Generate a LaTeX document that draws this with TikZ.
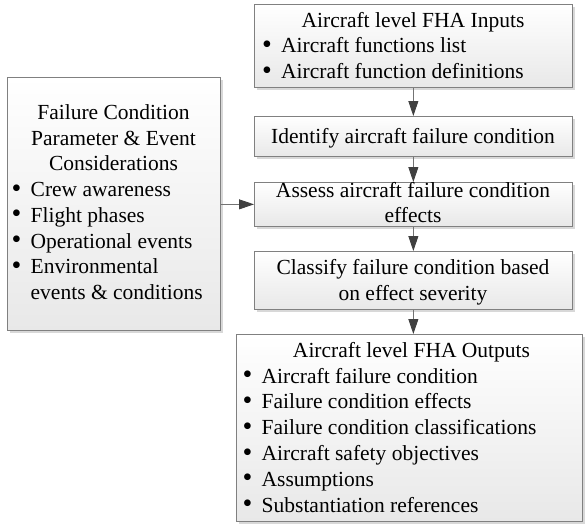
\documentclass[tikz,border=0pt]{standalone}
\usepackage{fontspec}
\setmainfont{Liberation Serif}
\usetikzlibrary{arrows.meta,shadows}

\begin{document}
\begin{tikzpicture}[x=1pt,y=-1pt,
  box/.style={draw=black!50, line width=0.7pt, top color=white, bottom color=black!9,
    drop shadow={shadow xshift=2.5pt, shadow yshift=-2.5pt, fill=black!30, opacity=0.5},
    inner sep=0pt, anchor=north west},
  txt/.style={font=\fontsize{21.5}{25.7}\selectfont, inner sep=0pt},
  title/.style={txt, anchor=base},
  item/.style={txt, anchor=base west},
  conn/.style={draw=black!55, line width=0.8pt,
    -{Triangle[length=15pt,width=10pt,color=black!75]}}
]
\useasboundingbox (0,0) rectangle (585,524);
\newcommand{\bul}{\makebox[19pt][l]{\raisebox{-0.03em}{\scalebox{1.3}{\textbullet}}}}

% boxes
\node[box, minimum width=318pt, minimum height=83pt]  (inp) at (254,4)   {};
\node[box, minimum width=318pt, minimum height=40pt]  (idf) at (254,116) {};
\node[box, minimum width=318pt, minimum height=44pt]  (ass) at (254,182) {};
\node[box, minimum width=318pt, minimum height=58pt]  (cls) at (254,251) {};
\node[box, minimum width=346pt, minimum height=187pt] (out) at (236,334) {};
\node[box, minimum width=213pt, minimum height=253pt] (par) at (7,77)    {};

% inputs
\node[title] (inpT) at (413,27.5) {Aircraft level FHA Inputs};
\node[item] (inpA) at (262,53) {\bul Aircraft functions list};
\node[item] (inpB) at (262,78.7) {\bul Aircraft function definitions};

% process steps
\node[title] (idfT) at (413,143) {Identify aircraft failure condition};
\node[title] (assA) at (413,197) {Assess aircraft failure condition};
\node[title] (assB) at (413,222) {effects};
\node[title] (clsA) at (413,274.5) {Classify failure condition based};
\node[title] (clsB) at (413,300) {on effect severity};

% parameters and events
\node[title] (parA) at (113.5,119.5) {Failure Condition};
\node[title] (parB) at (113.5,145.2) {Parameter \& Event};
\node[title] (parC) at (113.5,170.9) {Considerations};
\node[item]  (parD) at (11.5,196.6)  {\bul Crew awareness};
\node[item]  (parE) at (11.5,222.3)  {\bul Flight phases};
\node[item]  (parF) at (11.5,248.0)  {\bul Operational events};
\node[item]  (parG) at (11.5,273.7)  {\bul Environmental};
\node[item]  (parH) at (30.5,299.4)  {events \& conditions};

% outputs
\node[title] (outT) at (411.5,357) {Aircraft level FHA Outputs};
\node[item] (outA) at (242.5,383) {\bul Aircraft failure condition};
\node[item] (outB) at (242.5,408.8) {\bul Failure condition effects};
\node[item] (outC) at (242.5,434.6) {\bul Failure condition classifications};
\node[item] (outD) at (242.5,460.4) {\bul Aircraft safety objectives};
\node[item] (outE) at (242.5,486.2) {\bul Assumptions};
\node[item] (outF) at (242.5,512.0) {\bul Substantiation references};

% connectors
\draw[conn] (inp.south) -- (idf.north);
\draw[conn] (idf.south) -- (ass.north);
\draw[conn] (ass.south) -- (cls.north);
\draw[conn] (cls.south) -- (cls.south |- out.north);
\draw[conn] (par.east |- ass.west) -- (ass.west);
\end{tikzpicture}
\end{document}
